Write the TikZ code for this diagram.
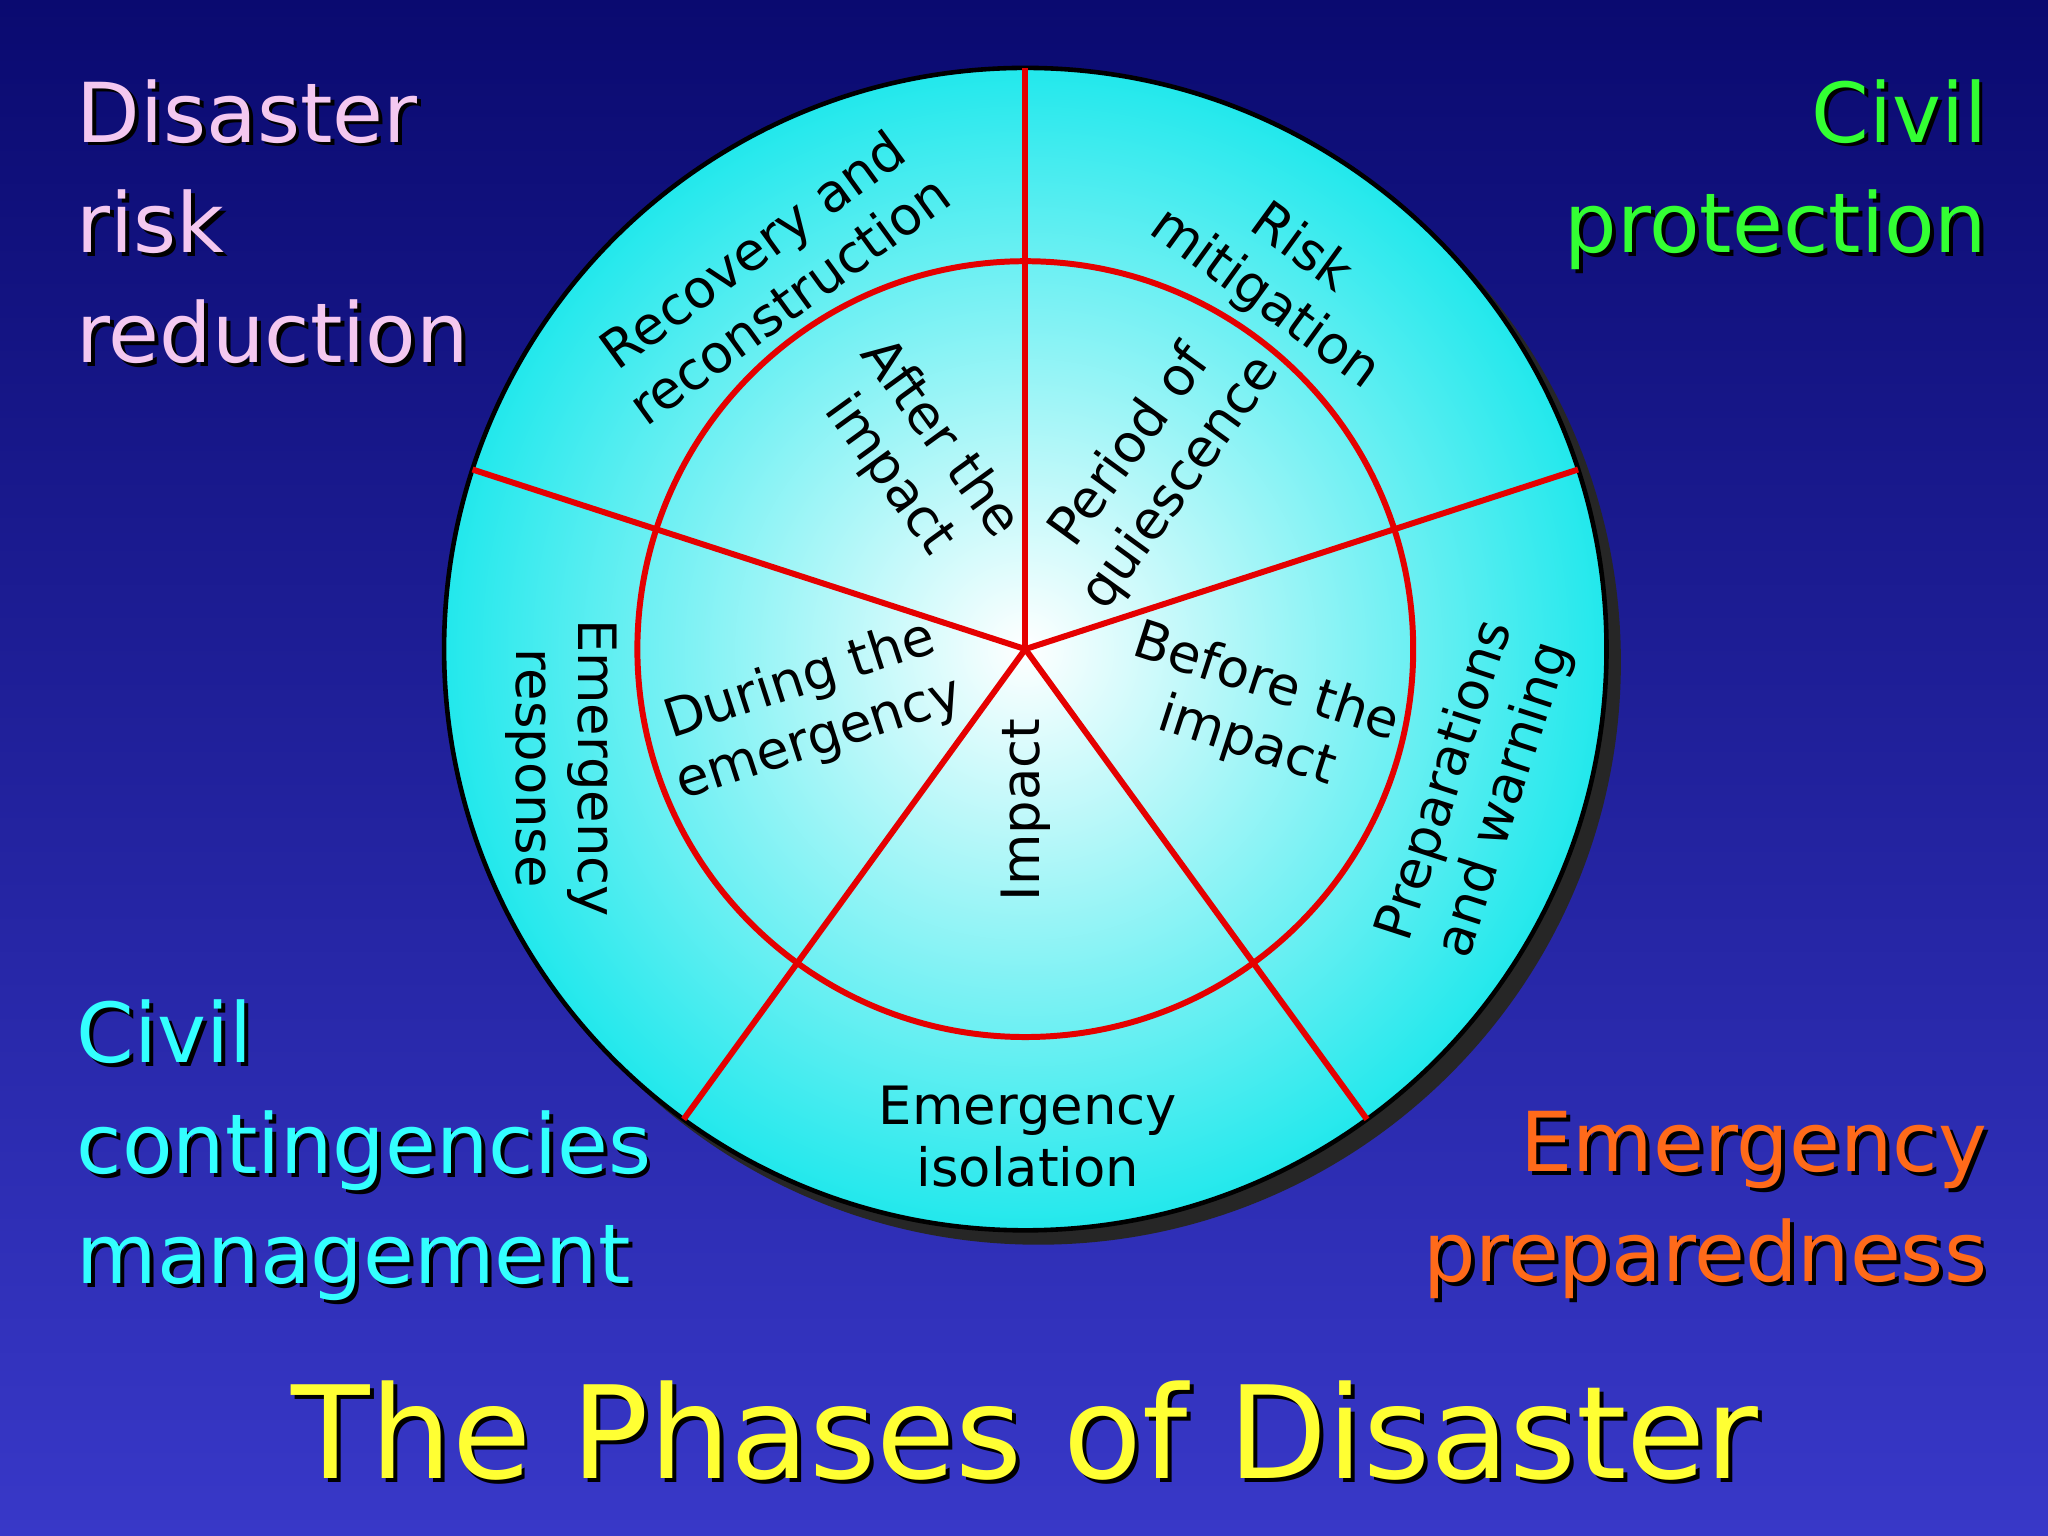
\documentclass[tikz,border=0pt]{standalone}
\usepackage{fontspec}
\setmainfont{DejaVu Sans}
\usetikzlibrary{shadings,calc}
\definecolor{bgtop}{HTML}{0A0A70}
\definecolor{bgbot}{HTML}{3838C8}
\definecolor{cpink}{HTML}{F4C8F0}
\definecolor{cgreen}{HTML}{33FF33}
\definecolor{ccyan}{HTML}{33FFFF}
\definecolor{corange}{HTML}{FF6A1A}
\definecolor{cyellow}{HTML}{FFFF33}
\definecolor{wheel}{HTML}{22E8EC}
\newcommand\shtext[4]{% pos, options, color, text
  \node[#2,text=black] at ($(#1)+(3,-3)$) {#4};
  \node[#2,text=#3] at (#1) {#4};}
\begin{document}
\begin{tikzpicture}[x=0.01cm,y=0.01cm,
  ring/.style={align=center,font=\fontsize{11.5}{13.5}\selectfont,inner sep=0pt},
  corner/.style={font=\fontsize{18}{24}\selectfont,inner sep=0pt},
  sep/.style={draw=red!90!black,line width=1.3pt}]
\useasboundingbox (0,0) rectangle (1568,1176);
\shade[top color=bgtop,bottom color=bgbot] (0,0) rectangle (1568,1176);
\coordinate (c) at (785,679);
\fill[black!85] ($(c)+(10,-10)$) circle (446);
\shade[inner color=white,outer color=wheel] (c) circle (445);
\draw[black,line width=1pt] (c) circle (445);
\draw[sep] (c) circle (297);
\foreach \a in {90,18,162,-54,-126}
  \draw[sep] (c) -- ($(c)+(\a:445)$);
\node[ring,rotate=36] at (590,966) {Recovery and\\reconstruction};
\node[ring,rotate=-36] at (982,966) {Risk\\mitigation};
\node[ring,rotate=-54] at (700,826) {After the\\impact};
\node[ring,rotate=54] at (885,820) {Period of\\quiescence};
\node[ring,rotate=18] at (620,632) {During the\\emergency};
\node[ring,rotate=-18] at (962,630) {Before the\\impact};
\node[ring,rotate=90] at (785,556) {Impact};
\node[ring,rotate=-90] at (430,588) {Emergency\\response};
\node[ring,rotate=72] at (1130,571) {Preparations\\and warning};
\node[ring] at (787,306) {Emergency\\isolation};
\coordinate (t1) at (58,1116);
\coordinate (t2) at (1522,1116);
\coordinate (t3) at (58,411);
\coordinate (t4) at (1522,326);
\coordinate (t5) at (785,81);
\shtext{t1}{corner,anchor=north west,align=left}{cpink}{Disaster\\risk\\reduction}
\shtext{t2}{corner,anchor=north east,align=right}{cgreen}{Civil\\protection}
\shtext{t3}{corner,anchor=north west,align=left}{ccyan}{Civil\\contingencies\\management}
\shtext{t4}{corner,anchor=north east,align=right}{corange}{Emergency\\preparedness}
\shtext{t5}{font=\fontsize{28}{34}\selectfont,inner sep=0pt}{cyellow}{The Phases of Disaster}
\end{tikzpicture}
\end{document}
